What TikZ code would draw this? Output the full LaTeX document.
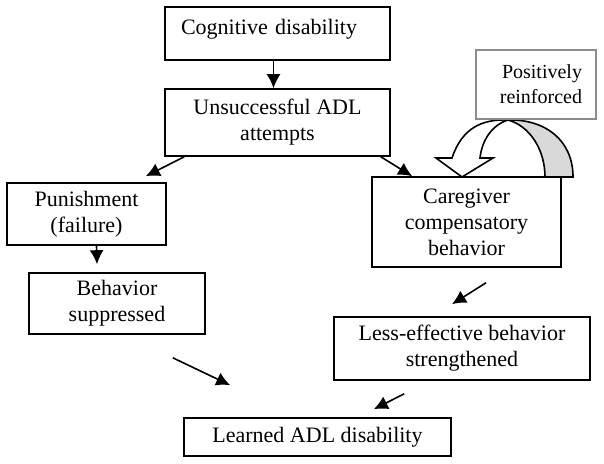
\documentclass[tikz,border=0pt]{standalone}
\usepackage{fontspec}
\setmainfont{Liberation Serif}
\usepackage{tikz}
\usetikzlibrary{arrows.meta}
\tikzset{every path/.style={line width=0.8pt}}
\tikzset{box/.style={draw, line width=0.8pt, rectangle, align=center, inner sep=2pt, font=\fontsize{11}{13}\selectfont}}
\tikzset{link/.style={-{Latex[length=7pt,width=7pt]}}}

\begin{document}
\begin{tikzpicture}[x=0.5pt,y=-0.5pt]
\useasboundingbox (0,0) rectangle (604,464);

% loop arrow above the caregiver box
\filldraw[fill=black!15] (508,120) .. controls (530,126) and (545,150) .. (545,177)
  -- (573,177) .. controls (573,140) and (545,119) .. (508,120) -- cycle;
\filldraw[fill=white] (452,158) .. controls (462,128) and (482,119) .. (508,120)
  .. controls (492,125) and (482,140) .. (480,158)
  -- (493,158) -- (462,177) -- (436,158) -- cycle;

\node[box, align=left, text width=96.5pt, inner xsep=8pt, minimum height=26.5pt, text depth=7pt] (cog) at (277.5,33.5) {Cognitive disability};
\node[box, minimum width=112.5pt, minimum height=33.5pt] (unsucc) at (277.5,122.5) {Unsuccessful ADL\\attempts};
\node[box, minimum width=79.5pt, minimum height=31pt] (pun) at (86.5,214) {Punishment\\(failure)};
\node[box, minimum width=88pt, minimum height=30.5pt] (beh) at (117,303.5) {Behavior\\suppressed};
\node[box, minimum width=94.5pt, minimum height=45pt] (care) at (466.5,222) {Caregiver\\compensatory\\behavior};
\node[box, draw=black!45, align=right, text width=46pt, inner xsep=7pt, minimum height=34.5pt, font=\fontsize{10}{12.5}\selectfont] (pos) at (536,84.5) {Positively\\reinforced};
\node[box, minimum width=128pt, minimum height=31.5pt] (less) at (462,348.5) {Less-effective behavior\\strengthened};
\node[box, minimum width=133.5pt, minimum height=19pt] (learn) at (317.5,437) {Learned ADL disability};

\draw[link] ([xshift=-2pt]cog.south) -- ([xshift=-2pt]unsucc.north);
\draw[link] ([xshift=10pt]unsucc.south west) -- ([xshift=-10.5pt,yshift=3pt]pun.north east);
\draw[link] ([xshift=-5pt]unsucc.south east) -- ([xshift=20.5pt]care.north west);
\draw[link] ([xshift=5pt]pun.south) -- ([xshift=-10pt,yshift=4pt]beh.north);
\draw[link] ([xshift=-16.5pt,yshift=-11.5pt]beh.south east) -- ([xshift=23.5pt,yshift=16pt]learn.north west);
\draw[link] ([xshift=9.75pt,yshift=-7.5pt]care.south) -- ([xshift=-5pt,yshift=6pt]less.north);
\draw[link] ([xshift=35.5pt,yshift=-6.5pt]less.south west) -- ([xshift=-39pt,yshift=4pt]learn.north east);
\end{tikzpicture}
\end{document}
